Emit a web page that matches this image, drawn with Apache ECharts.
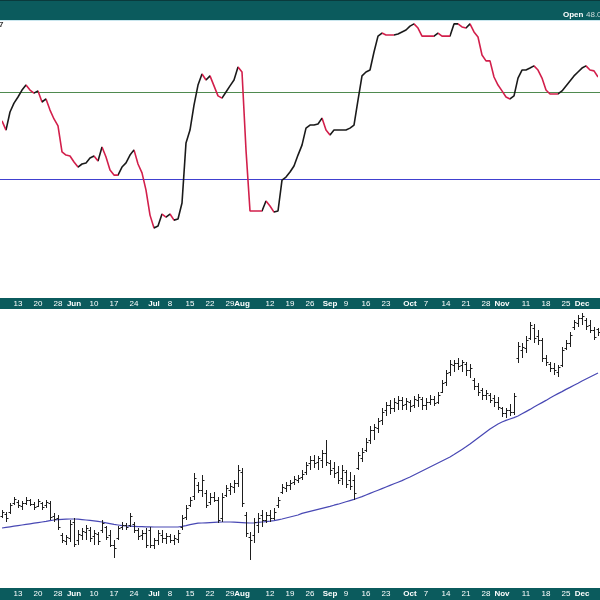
<!DOCTYPE html>
<html><head><meta charset="utf-8">
<script src="https://cdn.jsdelivr.net/npm/echarts@6/dist/echarts.min.js"></script>
<style>html,body{margin:0;padding:0;background:#fff}#c{width:600px;height:600px}</style>
</head><body><div id="c"></div>
<script>
// trading days (2019)
const mayDays = [7,8,9,10,13,14,15,16,17,20,21,22,23,24,28,29,30,31];
const junDays = [3,4,5,6,7,10,11,12,13,14,17,18,19,20,21,24,25,26,27,28];
const julDays = [1,2,3,5,8,9,10,11,12,15,16,17,18,19,22,23,24,25,26,29,30,31];
const augDays = [1,2,5,6,7,8,9,12,13,14,15,16,19,20,21,22,23,26,27,28,29,30];
const sepDays = [3,4,5,6,9,10,11,12,13,16,17,18,19,20,23,24,25,26,27,30];
const octDays = [1,2,3,4,7,8,9,10,11,14,15,16,17,18,21,22,23,24,25,28,29,30,31];
const novDays = [1,4,5,6,7,8,11,12,13,14,15,18,19,20,21,22,25,26,27,29];
const decDays = [2,3,4,5,6];

const tickDates = ['2019-05-13','2019-05-20','2019-05-28','2019-06-03','2019-06-10','2019-06-17','2019-06-24','2019-07-01','2019-07-08','2019-07-15','2019-07-22','2019-07-29','2019-08-01','2019-08-12','2019-08-19','2019-08-26','2019-09-03','2019-09-09','2019-09-16','2019-09-23','2019-10-01','2019-10-07','2019-10-14','2019-10-21','2019-10-28','2019-11-01','2019-11-11','2019-11-18','2019-11-25','2019-12-02'];
const tickTexts = ['13','20','28','Jun','10','17','24','Jul','8','15','22','29','Aug','12','19','26','Sep','9','16','23','Oct','7','14','21','28','Nov','11','18','25','Dec'];

const rsiLevels = [70, 30];
const rsi = [56.7,52.5,60.8,64.9,67.7,70.9,73.2,70.9,69.5,70.5,
65.4,66.8,61.7,57.6,54.4,42.5,41.0,40.6,37.8,35.5,
36.9,37.4,39.7,40.6,38.3,44.7,40.1,34.1,31.8,31.8,
35.5,37.4,41.0,43.4,36.9,32.8,24.9,13.4,7.5,8.4,
13.9,12.5,13.9,11.1,11.6,19.0,46.6,52.5,64.0,73.2,
78.3,75.5,77.4,72.8,68.2,67.2,70.0,72.8,75.5,81.5,
79.2,43.3,15.3,15.3,15.3,15.3,19.9,17.6,14.8,15.3,
29.5,30.9,33.2,36.0,41.0,45.6,53.4,54.8,54.8,55.3,
58.0,52.5,50.2,52.5,52.5,52.5,52.5,53.4,54.8,66.3,
77.4,79.2,80.1,88.4,95.7,97.1,96.2,96.2,96.2,96.7,
97.6,98.5,100.3,101.3,99.4,95.7,95.7,95.7,95.7,97.1,
95.7,95.7,95.7,101.3,101.3,99.9,99.4,101.3,97.6,95.3,
87.0,84.3,84.3,76.9,73.2,70.5,67.7,66.8,68.2,76.4,
80.1,80.1,81.0,82.0,80.1,76.4,70.9,69.1,69.1,69.1,
70.5,72.8,75.1,77.4,79.2,81.0,82.0,80.1,79.7,76.9];

const openP = [38.65,38.75,38.85,39.30,39.35,39.15,39.30,39.45,39.25,39.15,
39.30,39.20,39.30,38.65,38.55,37.70,37.40,37.55,38.35,37.45,
37.70,37.85,37.95,37.65,37.75,37.95,38.10,37.70,37.20,37.55,
38.10,38.20,38.20,38.25,37.95,37.70,37.80,37.95,37.20,37.45,
37.70,37.55,37.65,37.45,37.50,38.10,38.60,39.20,39.65,40.20,
39.95,39.80,39.35,39.60,39.45,38.55,39.70,39.95,40.10,40.30,
40.85,38.70,37.60,37.70,38.20,38.70,38.45,38.70,38.55,39.20,
39.85,40.05,40.20,40.35,40.45,40.60,40.85,41.30,41.45,41.35,
41.45,41.80,41.30,41.05,40.85,40.55,40.85,40.45,40.45,41.05,
41.55,41.95,42.45,42.95,43.05,43.45,43.95,44.20,44.05,44.30,
44.45,44.25,44.35,44.20,44.45,44.50,44.20,44.35,44.50,44.35,
44.85,45.35,45.85,46.20,46.30,46.20,46.25,45.95,45.45,45.15,
44.95,44.70,44.70,44.55,44.35,44.05,43.80,43.95,43.85,46.55,
46.95,47.05,47.55,48.05,47.65,47.45,46.55,46.25,46.05,45.85,
46.20,47.05,47.30,48.10,48.30,48.55,48.45,48.20,47.95,48.00];
const highP = [38.95,38.85,39.30,39.60,39.45,39.40,39.60,39.50,39.35,39.50,
39.35,39.45,39.40,38.80,38.70,37.80,37.70,38.45,38.55,37.95,
38.05,38.20,38.10,37.95,37.85,38.45,38.15,37.95,37.45,38.15,
38.35,38.30,38.80,38.35,38.05,37.95,38.05,38.10,37.55,37.95,
37.95,37.80,37.75,37.70,37.95,38.70,39.20,39.60,40.80,40.35,
40.70,39.95,39.80,39.85,39.60,39.80,40.20,40.30,40.45,41.20,
41.05,38.85,37.85,38.55,38.80,38.95,38.85,38.95,39.05,39.60,
40.25,40.35,40.45,40.65,40.70,40.95,41.35,41.65,41.70,41.65,
41.95,42.45,41.45,41.35,41.15,41.20,40.95,40.85,40.70,41.85,
42.05,42.55,43.15,43.25,43.55,44.05,44.35,44.45,44.55,44.65,
44.60,44.55,44.45,44.65,44.75,44.60,44.55,44.70,44.65,44.85,
45.45,45.95,46.45,46.45,46.55,46.45,46.35,46.25,45.55,45.30,
45.05,44.95,44.80,44.70,44.60,44.10,44.05,44.25,44.80,47.35,
47.30,47.65,48.35,48.25,47.95,47.55,46.70,46.35,46.30,46.20,
47.10,47.45,47.85,48.45,48.70,48.80,48.55,48.45,48.10,48.05];
const lowP = [38.55,38.35,38.75,39.20,39.05,38.95,39.20,39.15,38.95,39.10,
38.95,39.05,38.45,38.35,37.95,37.30,37.20,37.35,37.10,37.20,
37.45,37.45,37.35,37.20,37.20,37.80,37.45,37.10,36.55,37.45,
37.95,37.95,38.10,37.80,37.45,37.45,37.05,37.05,37.00,37.20,
37.30,37.25,37.30,37.20,37.30,37.95,38.45,39.10,39.45,39.80,
39.60,39.05,39.20,39.35,38.30,38.35,39.60,39.70,39.80,40.10,
39.10,37.60,36.45,37.30,37.80,38.10,38.30,38.35,38.45,39.05,
39.75,39.85,39.95,40.20,40.30,40.45,40.70,40.95,41.05,40.95,
41.05,41.15,40.70,40.55,40.25,40.20,40.05,39.95,39.45,40.95,
41.35,41.85,42.25,42.45,42.80,43.20,43.65,43.75,43.85,43.95,
43.95,43.95,43.85,44.05,44.10,43.95,43.95,44.20,44.15,44.25,
44.80,45.15,45.65,45.85,45.95,45.85,45.65,45.55,44.95,44.65,
44.45,44.45,44.30,44.10,43.95,43.60,43.55,43.65,43.70,46.30,
46.55,46.80,47.45,47.30,47.20,46.35,46.15,45.85,45.70,45.60,
46.10,46.95,47.10,47.95,48.10,48.20,47.95,47.80,47.45,47.65];
const closeP = [38.85,38.55,39.20,39.50,39.20,39.30,39.45,39.25,39.10,39.40,
39.10,39.35,38.60,38.50,38.10,37.45,37.60,38.25,37.25,37.75,
37.90,38.05,37.55,37.80,37.40,38.30,37.60,37.20,37.05,38.05,
38.20,38.10,38.65,37.95,37.65,37.80,37.20,37.20,37.45,37.80,
37.55,37.65,37.45,37.55,37.80,38.55,39.05,39.45,40.55,39.95,
40.45,39.20,39.60,39.45,38.45,39.60,40.05,40.15,40.30,40.95,
39.30,37.80,37.45,38.35,38.55,38.45,38.70,38.55,38.85,39.45,
40.10,40.20,40.30,40.50,40.55,40.75,41.20,41.45,41.30,41.55,
41.80,41.35,40.95,40.80,40.45,40.95,40.25,40.15,39.80,41.70,
41.85,42.35,42.95,43.10,43.40,43.85,44.20,44.05,44.35,44.45,
44.20,44.40,44.15,44.50,44.60,44.20,44.35,44.50,44.30,44.70,
45.30,45.80,46.25,46.30,46.15,46.35,45.95,46.05,45.15,44.85,
44.70,44.80,44.45,44.35,44.10,43.80,43.95,43.85,44.65,47.15,
47.10,47.45,48.20,47.55,47.45,46.55,46.35,46.05,45.95,46.10,
46.95,47.30,47.70,48.35,48.55,48.65,48.15,47.95,47.60,47.85];
const maP = [38.05,38.08,38.11,38.14,38.17,38.20,38.23,38.26,38.29,38.32,
38.35,38.38,38.42,38.45,38.47,38.48,38.49,38.50,38.50,38.49,
38.47,38.45,38.43,38.41,38.38,38.35,38.31,38.27,38.23,38.20,
38.17,38.15,38.14,38.13,38.12,38.12,38.11,38.11,38.10,38.10,
38.10,38.10,38.10,38.10,38.10,38.13,38.17,38.22,38.26,38.29,
38.30,38.31,38.32,38.33,38.34,38.35,38.35,38.35,38.34,38.33,
38.32,38.31,38.30,38.31,38.33,38.35,38.37,38.39,38.42,38.46,
38.50,38.55,38.60,38.65,38.70,38.78,38.83,38.88,38.93,38.98,
39.03,39.08,39.13,39.19,39.24,39.30,39.36,39.42,39.48,39.55,
39.62,39.70,39.78,39.86,39.94,40.02,40.10,40.18,40.26,40.34,
40.42,40.51,40.60,40.70,40.80,40.90,41.00,41.10,41.20,41.30,
41.40,41.50,41.60,41.72,41.85,41.98,42.11,42.25,42.40,42.55,
42.70,42.85,43.00,43.13,43.25,43.35,43.43,43.50,43.57,43.65,
43.76,43.87,43.98,44.10,44.21,44.32,44.43,44.55,44.66,44.77,
44.87,44.98,45.08,45.19,45.29,45.40,45.50,45.60,45.70,45.80];

const pad = n => (n < 10 ? '0' : '') + n;
const dates = [];
[[5,mayDays],[6,junDays],[7,julDays],[8,augDays],[9,sepDays],[10,octDays],[11,novDays],[12,decDays]].forEach(([m, ds]) => ds.forEach(d => dates.push('2019-' + pad(m) + '-' + pad(d))));
const tickMap = {};
tickDates.forEach((d, i) => { tickMap[d] = tickTexts[i]; });

const TEAL = '#0b5b5d';
const FONT = "'Liberation Sans', Arial, sans-serif";
const LEVEL_COLORS = ['#4f8a4f', '#4040d0'];

// direction colouring for the oscillator line
const UP = '#1a1a1a', DOWN = '#d21f4b';
const pieces = [];
let prev = UP;
for (let k = 0; k < rsi.length - 1; k++) {
  let c = rsi[k + 1] > rsi[k] ? UP : (rsi[k + 1] < rsi[k] ? DOWN : prev);
  prev = c;
  const last = pieces[pieces.length - 1];
  if (last && last.color === c) last.lte = k + 1;
  else pieces.push(k === 0 ? { gte: k, lte: k + 1, color: c } : { gt: k, lte: k + 1, color: c });
}

const ohlc = dates.map((d, i) => [i, openP[i], highP[i], lowP[i], closeP[i]]);

const axisLabel = {
  margin: 1, fontSize: 8, color: '#ffffff', fontFamily: FONT, lineHeight: 10,
  interval: (idx, val) => tickMap[val] !== undefined,
  formatter: val => { const t = tickMap[val] || ''; return /^[A-Z]/.test(t) ? '{b|' + t + '}' : t; },
  rich: { b: { fontWeight: 'bold', fontSize: 8, color: '#ffffff', fontFamily: FONT } },
  hideOverlap: false
};

const baseGraphic = [
  { id: 'hdr', type: 'rect', z: -1, shape: { x: 0, y: 0, width: 600, height: 20 }, style: { fill: TEAL } },
  { id: 'hdrTop', type: 'rect', z: -1, shape: { x: 0, y: 0, width: 600, height: 1 }, style: { fill: '#0a3a3c' } },
  { id: 'border', type: 'line', z: -1, shape: { x1: 0, y1: 20.5, x2: 600, y2: 20.5 }, style: { stroke: '#c9e6ee', lineWidth: 1 } },
  { id: 'band1', type: 'rect', z: -1, shape: { x: 0, y: 298, width: 600, height: 11 }, style: { fill: TEAL } },
  { id: 'band2', type: 'rect', z: -1, shape: { x: 0, y: 588, width: 600, height: 12 }, style: { fill: TEAL } },
  { id: 'openLbl', type: 'text', z: 20, x: 563, y: 11, style: { text: 'Open', fill: '#ffffff', font: 'bold 8px ' + FONT } },
  { id: 'openVal', type: 'text', z: 20, x: 586, y: 11, style: { text: '48.0', fill: '#cfdcdc', font: '8px ' + FONT } },
  { id: 'cut7', type: 'text', z: 20, x: -1, y: 21, style: { text: '7', fill: '#333333', font: 'bold 8px ' + FONT } }
];

const chart = echarts.init(document.getElementById('c'), null, { renderer: 'canvas' });
chart.setOption({
  animation: false,
  backgroundColor: '#ffffff',
  grid: [
    { left: 0, right: 0, top: 20, height: 278 },
    { left: 0, right: 0, top: 309, height: 279 }
  ],
  xAxis: [
    { type: 'category', gridIndex: 0, data: dates, z: 10, axisLine: { show: false }, axisTick: { show: false }, splitLine: { show: false }, axisLabel: axisLabel },
    { type: 'category', gridIndex: 1, data: dates, z: 10, axisLine: { show: false }, axisTick: { show: false }, splitLine: { show: false }, axisLabel: axisLabel }
  ],
  yAxis: [
    { type: 'value', gridIndex: 0, min: -24.7, max: 103.1, show: false, splitLine: { show: false } },
    { type: 'value', gridIndex: 1, min: 35.05, max: 49, show: false, splitLine: { show: false } }
  ],
  visualMap: [{ type: 'piecewise', show: false, dimension: 0, seriesIndex: [0], pieces: pieces }],
  series: [
    {
      type: 'line', xAxisIndex: 0, yAxisIndex: 0, data: rsi, showSymbol: false, z: 5,
      lineStyle: { width: 1.6 }
    },
    {
      type: 'line', xAxisIndex: 1, yAxisIndex: 1, data: maP, showSymbol: false, z: 3,
      lineStyle: { color: '#4848b4', width: 1.2 }, itemStyle: { color: '#4848b4' }
    },
    {
      type: 'custom', xAxisIndex: 1, yAxisIndex: 1, data: ohlc, z: 4,
      encode: { x: 0, y: [1, 2, 3, 4] },
      renderItem: function (params, api) {
        const i = api.value(0);
        const pO = api.coord([i, api.value(1)]);
        const pH = api.coord([i, api.value(2)]);
        const pL = api.coord([i, api.value(3)]);
        const pC = api.coord([i, api.value(4)]);
        const x = Math.round(pH[0]) + 0.5;
        const st = { stroke: '#1e1e1e', lineWidth: 1 };
        return {
          type: 'group',
          children: [
            { type: 'line', shape: { x1: x, y1: pH[1], x2: x, y2: pL[1] }, style: st },
            { type: 'line', shape: { x1: x - 2, y1: Math.round(pO[1]) + 0.5, x2: x, y2: Math.round(pO[1]) + 0.5 }, style: st },
            { type: 'line', shape: { x1: x, y1: Math.round(pC[1]) + 0.5, x2: x + 2, y2: Math.round(pC[1]) + 0.5 }, style: st }
          ]
        };
      }
    }
  ],
  graphic: baseGraphic
});

// reference levels positioned through the oscillator's own y scale
const levelLines = rsiLevels.map((v, i) => {
  const y = Math.round(chart.convertToPixel({ yAxisIndex: 0 }, v)) + 0.5;
  return { id: 'level' + i, type: 'line', z: 1, shape: { x1: 0, y1: y, x2: 600, y2: y }, style: { stroke: LEVEL_COLORS[i], lineWidth: 1 } };
});
chart.setOption({ graphic: baseGraphic.concat(levelLines) });
</script></body></html>
